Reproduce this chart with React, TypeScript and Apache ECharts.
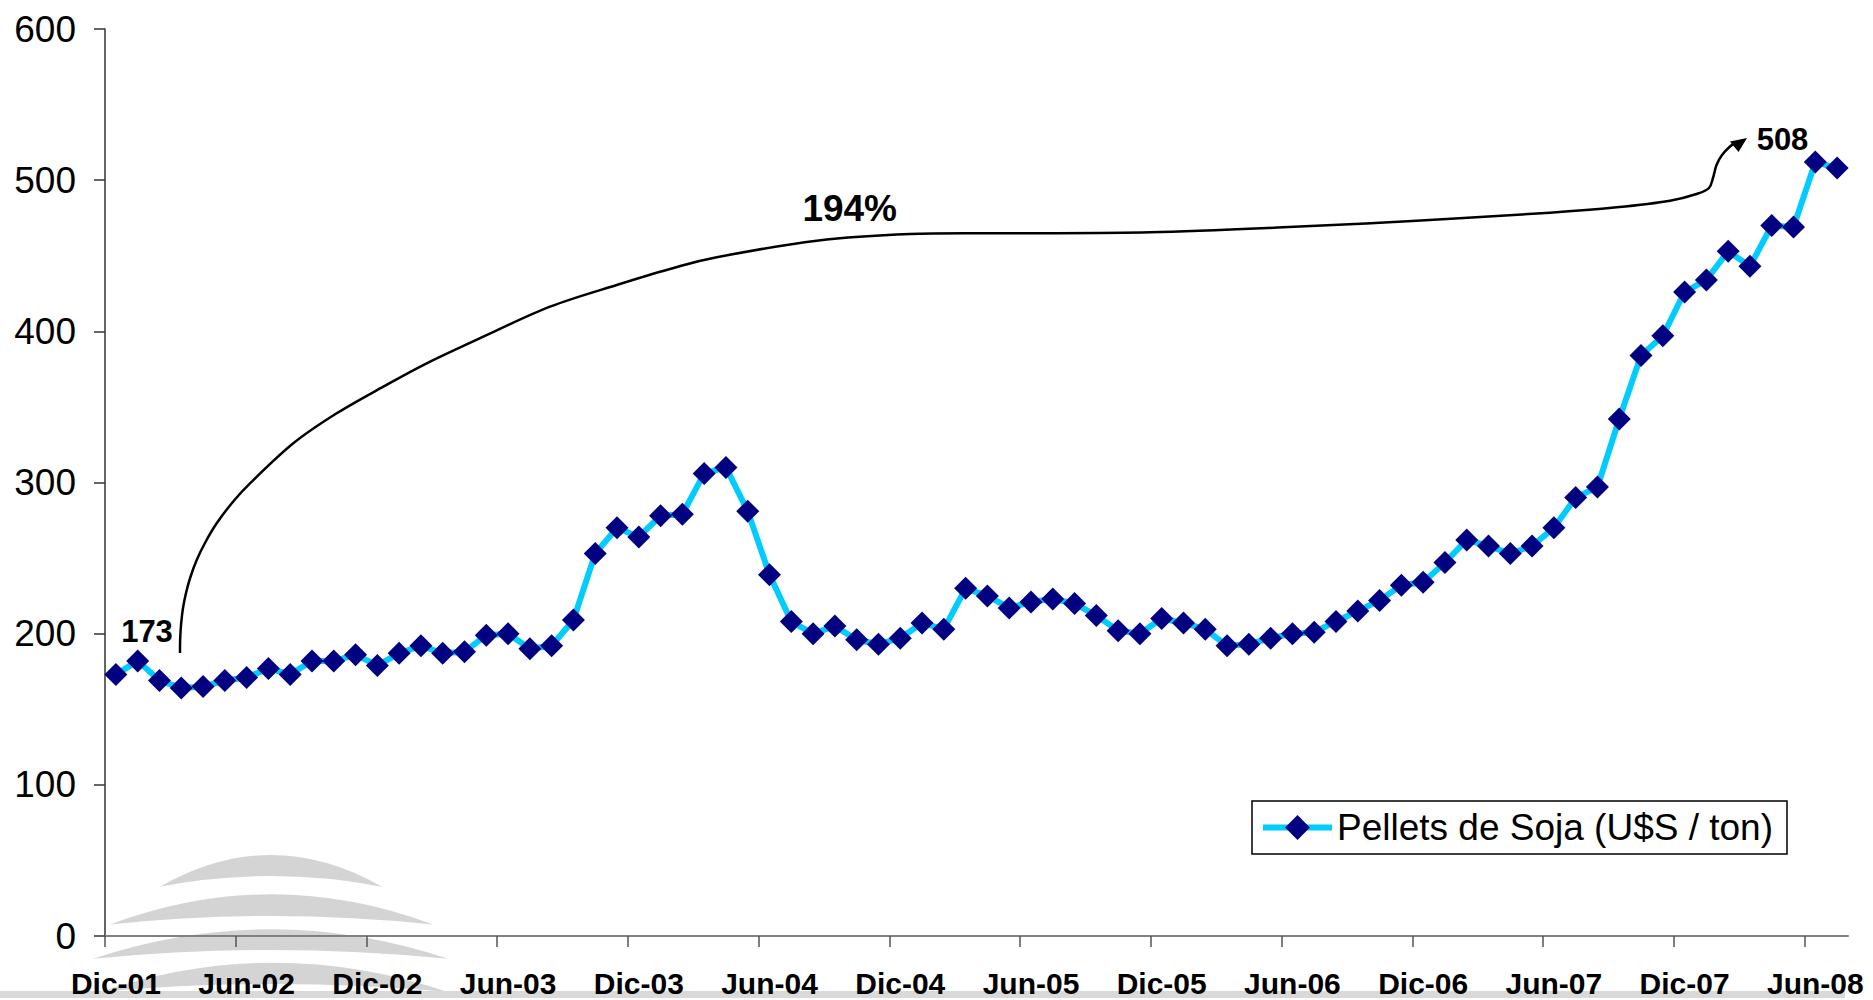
import React, { useEffect, useRef } from "react";
import * as echarts from "echarts";

// ---------- data ----------
const MONTHS = ["Ene", "Feb", "Mar", "Abr", "May", "Jun", "Jul", "Ago", "Sep", "Oct", "Nov", "Dic"];
const START_YEAR = 2001; // first category is Dic-01
const START_MONTH = 11; // index of "Dic"

const prices = [
  173, 182, 169, 164, 165, 169, 171, 177, 173, 182, 182, 186,
  179, 187, 192, 187, 188, 199, 200, 190, 192, 209, 253, 270,
  264, 278, 279, 306, 310, 281, 239, 208, 200, 205, 196, 193,
  197, 207, 203, 230, 225, 217, 221, 223, 220, 212, 202, 200,
  210, 207, 203, 192, 193, 197, 200, 201, 208, 215, 222, 232,
  234, 247, 262, 258, 253, 258, 270, 290, 297, 342, 384, 397,
  426, 434, 453, 443, 470, 469, 512, 508,
];

const categories = prices.map((_, i) => {
  const k = START_MONTH + i;
  return `${MONTHS[k % 12]}-${String(START_YEAR + Math.floor(k / 12)).slice(2)}`;
});

const X_TICK_BOUNDARIES = [0, 6, 12, 18, 24, 30, 36, 42, 48, 54, 60, 66, 72, 78];
const Y_MIN = 0;
const Y_MAX = 600;
const Y_INTERVAL = 100;

const SERIES_NAME = "Pellets de Soja (U$S / ton)";
const FIRST_LABEL = String(prices[0]);
const LAST_LABEL = String(prices[prices.length - 1]);
const CHANGE_LABEL = Math.round(((prices[prices.length - 1] - prices[0]) / prices[0]) * 100) + "%";

// ---------- decoration (pixel geometry) ----------
const CURVE_PTS: [number, number][] = [
  [180, 653], [180.2, 638], [181.2, 623], [183, 608], [186, 593], [190.1, 578],
  [196.7, 560], [205.5, 542], [216.7, 523.3], [232, 503], [250, 483.3],
  [293.3, 443.3], [336.7, 413.3], [383.3, 386.7], [426.7, 363.3], [483.3, 336.7],
  [550, 306.7], [616.7, 285], [670, 269], [716.7, 257.3], [816.7, 240.7], [910, 234],
  [1016.7, 233.3], [1150, 232.3], [1283.3, 227.3], [1416.7, 220.7], [1550, 212.7],
  [1616.7, 207.3], [1670, 200.7], [1698, 193.5], [1709, 188], [1713, 178],
  [1716.5, 165], [1722, 155], [1730, 146.5], [1736, 142.5],
];

function smoothPath(pts: [number, number][]) {
  let d = `M${pts[0][0]},${pts[0][1]}`;
  for (let i = 0; i < pts.length - 1; i++) {
    const p1 = pts[i];
    const p2 = pts[i + 1];
    const p0 = pts[i - 1] || [p1[0], p1[1] + (p1[1] - p2[1])];
    const p3 = pts[i + 2] || p2;
    const c1x = p1[0] + (p2[0] - p0[0]) / 6;
    const c1y = p1[1] + (p2[1] - p0[1]) / 6;
    const c2x = p2[0] - (p3[0] - p1[0]) / 6;
    const c2y = p2[1] - (p3[1] - p1[1]) / 6;
    d += ` C${c1x.toFixed(2)},${c1y.toFixed(2)} ${c2x.toFixed(2)},${c2y.toFixed(2)} ${p2[0]},${p2[1]}`;
  }
  return d;
}

// crescents: [left, right, tipY, outerPeakY, innerPeakY]
const CRESCENTS = [
  [160, 382, 886.7, 855, 876],
  [110, 433, 924.5, 894.3, 916],
  [93, 448, 958.8, 929.3, 950],
  [100, 448, 992, 962.7, 984],
];
function crescentPath() {
  return CRESCENTS.map(([l, r, t, o, inn]) => {
    const cx = (l + r) / 2;
    const co = 2 * o - t;
    const ci = 2 * inn - t;
    return `M${l},${t} Q${cx},${co} ${r},${t} Q${cx},${ci} ${l},${t} Z`;
  }).join(" ");
}

echarts.graphic.registerShape("annotCurve", echarts.graphic.extendPath(smoothPath(CURVE_PTS), {}));
echarts.graphic.registerShape("logoCrescents", echarts.graphic.extendPath(crescentPath(), {}));

const FONT = '"Liberation Sans", Arial, Helvetica, sans-serif';

export default function App() {
  const ref = useRef<HTMLDivElement>(null);

  useEffect(() => {
    document.body.style.margin = "0";
    document.body.style.overflow = "hidden";
    if (!ref.current) return;
    const chart = echarts.init(ref.current, null, { renderer: "svg" });

    const option: any = {
      animation: false,
      backgroundColor: "#ffffff",
      textStyle: { fontFamily: FONT },
      grid: { left: 105, right: 25, top: 29, bottom: 64, containLabel: false },
      legend: {
        data: [SERIES_NAME],
        left: 1252,
        top: 801,
        orient: "horizontal",
        padding: [8, 14, 8, 8],
        itemWidth: 69,
        itemHeight: 31,
        borderColor: "#000",
        borderWidth: 1.5,
        backgroundColor: "#fff",
        selectedMode: false,
        z: 6,
        lineStyle: { width: 6, color: "#00CCFF" },
        textStyle: { fontSize: 37, color: "#000", fontFamily: FONT },
      },
      xAxis: [
        {
          type: "category",
          data: categories,
          boundaryGap: true,
          position: "bottom",
          z: 3,
          axisLine: { show: true, lineStyle: { color: "#808080", width: 2 } },
          axisTick: { show: false },
          axisLabel: {
            interval: 5,
            margin: 32,
            fontSize: 30,
            fontWeight: "bold",
            color: "#000",
            fontFamily: FONT,
          },
          splitLine: { show: false },
        },
        {
          type: "value",
          min: 0,
          max: categories.length,
          position: "bottom",
          z: 3,
          axisLine: { show: false },
          axisLabel: { show: false },
          splitLine: { show: false },
          axisTick: {
            show: true,
            customValues: X_TICK_BOUNDARIES,
            length: 11,
            lineStyle: { color: "#555", width: 1.5 },
          },
        },
      ],
      yAxis: {
        type: "value",
        min: Y_MIN,
        max: Y_MAX,
        interval: Y_INTERVAL,
        z: 3,
        axisLine: { show: true, lineStyle: { color: "#333", width: 1.5 } },
        axisTick: { show: true, length: 11, lineStyle: { color: "#333", width: 1.5 } },
        axisLabel: { margin: 29, fontSize: 37, color: "#000", fontFamily: FONT },
        splitLine: { show: false },
      },
      series: [
        {
          type: "line",
          name: SERIES_NAME,
          data: prices,
          xAxisIndex: 0,
          yAxisIndex: 0,
          symbol: "diamond",
          symbolSize: 23,
          showAllSymbol: true,
          lineStyle: { color: "#00CCFF", width: 6 },
          itemStyle: { color: "#000080" },
          z: 4,
        },
      ],
      graphic: [
        { type: "logoCrescents", x: 0, y: 0, z: 0, silent: true, style: { fill: "#d4d4d4" } },
        { type: "rect", z: 0, silent: true, shape: { x: 0, y: 991, width: 1845, height: 7 }, style: { fill: "#d9d9d9" } },
        { type: "annotCurve", x: 0, y: 0, z: 5, silent: true, style: { fill: "none", stroke: "#000", lineWidth: 2.5 } },
        {
          type: "polygon",
          z: 5,
          silent: true,
          shape: { points: [[1747, 138], [1730, 141.5], [1738.5, 152]] },
          style: { fill: "#000" },
        },
        {
          type: "text",
          z: 6,
          x: 147,
          y: 631,
          style: { text: FIRST_LABEL, font: `bold 31px ${FONT}`, fill: "#000", align: "center", verticalAlign: "middle" },
        },
        {
          type: "text",
          z: 6,
          x: 1782.5,
          y: 139.5,
          style: { text: LAST_LABEL, font: `bold 31px ${FONT}`, fill: "#000", align: "center", verticalAlign: "middle" },
        },
        {
          type: "text",
          z: 6,
          x: 849.7,
          y: 208,
          style: { text: CHANGE_LABEL, font: `bold 37px ${FONT}`, fill: "#000", align: "center", verticalAlign: "middle" },
        },
      ],
    };

    chart.setOption(option);
    return () => chart.dispose();
  }, []);

  return <div ref={ref} style={{ width: 1873, height: 1000 }} />;
}
